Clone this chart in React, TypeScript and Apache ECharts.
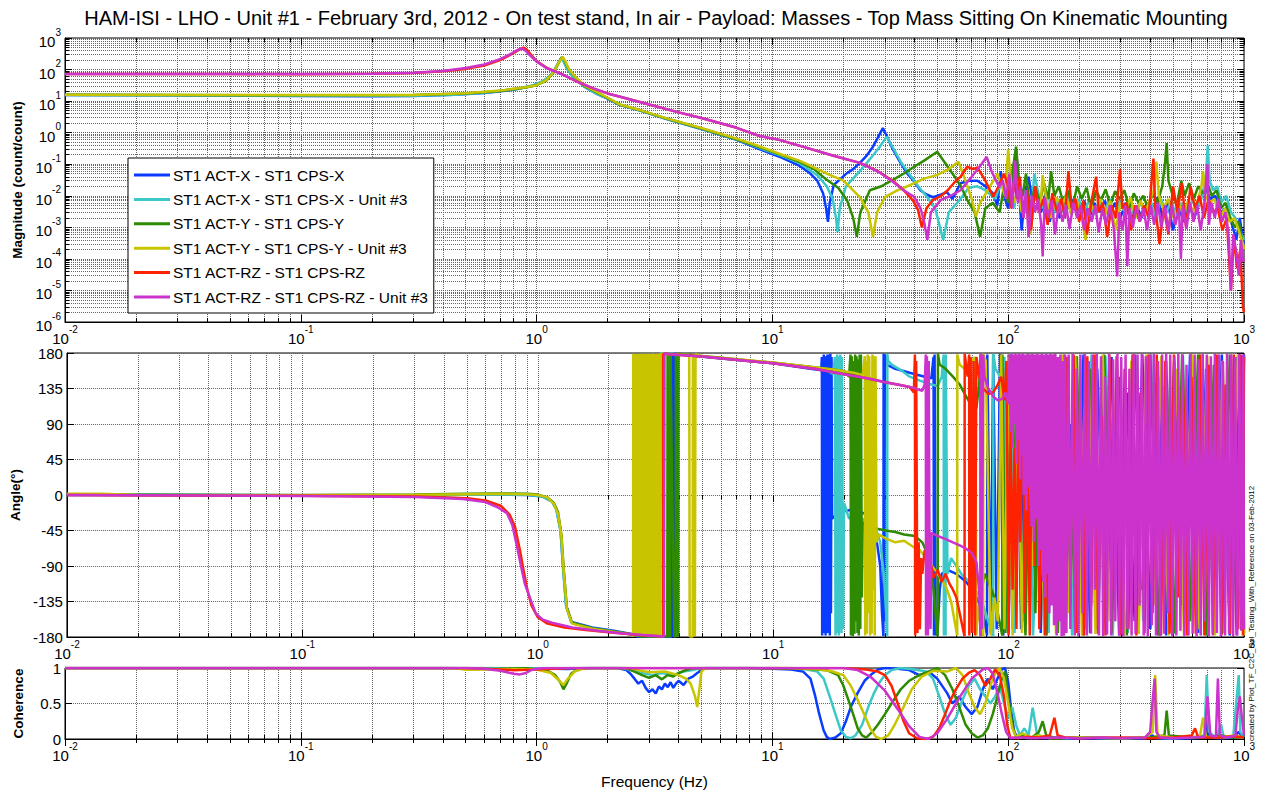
import React, { useEffect, useRef } from "react";
import * as echarts from "echarts";

const FONT = '"Liberation Sans", Arial, Helvetica, sans-serif';
const TITLE =
  "HAM-ISI - LHO - Unit #1 - February 3rd, 2012 - On test stand, In air - Payload: Masses - Top Mass Sitting On Kinematic Mounting";
const SIDE_NOTE = "created by Plot_TF_C2C_Rol_Testing_With_Reference on 03-Feb-2012";
const Y_NAMES = ["Magnitude (count/count)", "Angle(°)", "Coherence"];
const X_NAME = "Frequency (Hz)";
const SERIES_NAMES = [
  "ST1 ACT-X - ST1 CPS-X",
  "ST1 ACT-X - ST1 CPS-X - Unit #3",
  "ST1 ACT-Y - ST1 CPS-Y",
  "ST1 ACT-Y - ST1 CPS-Y - Unit #3",
  "ST1 ACT-RZ - ST1 CPS-RZ",
  "ST1 ACT-RZ - ST1 CPS-RZ - Unit #3",
];
const COLORS = ["#0a3cff", "#3cc8c8", "#2e8a00", "#c8c400", "#ff2200", "#cc33cc"];
const FREQ_MIN = 0.01;
const FREQ_MAX = 1000;
const MAG_MIN = 1e-6;
const MAG_MAX = 1e3;
const PHASE_MIN = -180;
const PHASE_MAX = 180;
const PHASE_STEP = 45;
const COH_MIN = 0;
const COH_MAX = 1;
const COH_STEP = 0.5;

// ---------- Magnitude (count/count) ----------
const MAG_X = [[0.01,15.5],[0.03,15.3],[0.1,14.6],[0.2,14.3],[0.3,14.5],[0.45,15.8],[0.6,18],[0.8,23],[0.95,30],[1.05,40],[1.12,55],[1.18,85],[1.23,150],[1.27,230],[1.3,190],[1.35,105],[1.42,62],[1.6,28],[1.8,17],[2.0,12],[2.26,7.5],[2.75,5],[3.5,2.8],[5,1.3],[7,0.6],[8.8,0.3],[11,0.16],[13,0.09],[14.3,0.055],[15.5,0.03],[16.4,0.012],[16.9,0.004],[17.2,0.0015],[17.5,0.006],[18.2,0.022],[19.5,0.035],[20.7,0.052],[22,0.07],[23.5,0.11],[25,0.18],[26.7,0.36],[28,0.7],[29.4,1.4],[30.5,0.8],[32.4,0.3],[34.5,0.13],[37.2,0.052],[40,0.028],[42.4,0.015],[45,0.011],[48,0.009],[52,0.011],[55,0.013],[58,0.008],[62.8,0.025],[68,0.03],[74,0.03],[80,0.02],[86,0.012],[90,0.005],[93,0.06],[96,0.01],[100,0.004],[104,0.04],[108,0.3],[111,0.02],[114,0.0008],[118,0.012],[122,0.04],[127,0.006],[132,0.015],[138,0.003],[144,0.012],[150,0.0015],[157,0.008],[165,0.002],[173,0.007],[181,0.004],[190,0.008],[200,0.003],[210,0.007],[221,0.002],[232,0.006],[244,0.003],[257,0.007],[270,0.0025],[284,0.006],[299,0.002],[315,0.006],[332,0.0015],[350,0.005],[368,0.002],[388,0.006],[408,0.003],[430,0.009],[452,0.002],[476,0.006],[500,0.0008],[527,0.005],[555,0.0015],[585,0.005],[615,0.002],[648,0.006],[682,0.02],[718,0.008],[756,0.01],[796,0.003],[838,0.004],[882,0.0015],[928,0.0004],[960,0.002],[985,0.0005],[1000,0.0003]];
const MAG_XU3 = [[0.01,15.6],[0.03,15.4],[0.1,14.9],[0.3,14.8],[0.45,16],[0.6,18.3],[0.8,23.5],[0.95,30.5],[1.05,41],[1.12,56],[1.18,86],[1.23,152],[1.27,225],[1.3,185],[1.35,102],[1.42,60],[1.6,28],[1.8,17],[2.0,12.2],[2.26,7.6],[2.75,5.1],[3.5,2.85],[5,1.32],[7,0.62],[8.8,0.33],[11,0.18],[13,0.11],[15.5,0.045],[17,0.02],[18,0.008],[18.6,0.002],[18.9,0.0007],[19.3,0.004],[20.5,0.02],[23.5,0.06],[26,0.15],[28.5,0.35],[30.5,0.75],[32,0.4],[35,0.12],[38,0.05],[42,0.018],[45.4,0.009],[49,0.004],[53,0.0004],[56,0.003],[62.8,0.008],[68,0.018],[74,0.02],[80,0.015],[88,0.008],[94,0.03],[98,0.008],[102,0.02],[106,0.004],[110,0.03],[114,0.006],[119,0.015],[124,0.0008],[129,0.05],[135,0.01],[141,0.004],[148,0.01],[155,0.0025],[163,0.008],[171,0.003],[180,0.009],[189,0.004],[199,0.008],[209,0.003],[220,0.007],[231,0.0025],[243,0.007],[256,0.003],[269,0.008],[283,0.002],[297,0.007],[312,0.003],[328,0.007],[345,0.002],[363,0.006],[382,0.003],[402,0.007],[423,0.002],[445,0.008],[468,0.003],[492,0.007],[518,0.002],[545,0.006],[573,0.003],[603,0.007],[634,0.004],[667,0.01],[690,0.05],[702,0.4],[715,0.03],[740,0.015],[770,0.02],[800,0.006],[840,0.01],[880,0.003],[920,0.002],[960,0.0008],[1000,0.0004]];
const MAG_Y = [[0.01,15.8],[0.1,15.3],[0.3,15.5],[0.5,17.5],[0.7,21],[0.9,27],[1.0,32],[1.1,45],[1.18,80],[1.24,160],[1.28,250],[1.31,200],[1.36,110],[1.45,60],[1.6,30],[1.8,19],[2.0,12.5],[2.26,7.6],[2.75,5.1],[3.5,2.9],[5,1.35],[7,0.63],[8.8,0.35],[11,0.19],[13,0.12],[15,0.07],[17,0.032],[19,0.018],[20.7,0.0074],[22,0.002],[22.8,0.0005],[23.6,0.003],[25.9,0.015],[29,0.02],[32.4,0.032],[36,0.05],[39.9,0.083],[44,0.13],[50,0.25],[54,0.11],[58.7,0.045],[63,0.02],[67,0.0074],[72,0.003],[76,0.0005],[80,0.004],[86,0.006],[92,0.003],[96,0.02],[100,0.006],[104,0.05],[108,0.36],[111,0.03],[115,0.01],[119,0.05],[124,0.004],[130,0.02],[136,0.006],[142,0.025],[148,0.008],[152,0.06],[157,0.01],[164,0.02],[171,0.006],[179,0.015],[187,0.004],[196,0.02],[205,0.008],[215,0.018],[225,0.004],[236,0.015],[247,0.007],[259,0.016],[271,0.005],[284,0.014],[297,0.008],[311,0.015],[326,0.004],[341,0.012],[357,0.006],[374,0.01],[392,0.004],[410,0.012],[430,0.006],[450,0.02],[462,0.1],[470,0.47],[478,0.03],[495,0.012],[518,0.005],[542,0.03],[560,0.01],[585,0.025],[612,0.008],[640,0.02],[670,0.012],[700,0.025],[730,0.01],[765,0.015],[800,0.004],[835,0.006],[875,0.002],[915,0.001],[950,0.0015],[980,0.0004],[1000,0.0002]];
const MAG_YU3 = [[0.01,15.8],[0.1,15.5],[0.3,15.6],[0.5,17.8],[0.7,21.5],[0.9,27.5],[1.0,32],[1.1,46],[1.18,82],[1.24,165],[1.29,255],[1.32,190],[1.37,105],[1.46,58],[1.6,31],[1.8,19.5],[2.0,12.8],[2.26,7.8],[2.75,5.2],[3.5,2.95],[5,1.4],[7,0.66],[8.8,0.37],[11,0.2],[13,0.13],[15,0.08],[17,0.05],[20,0.03],[23.5,0.009],[25.5,0.003],[26.7,0.0005],[27.8,0.003],[30,0.009],[34,0.015],[38.5,0.022],[44,0.035],[50,0.046],[56,0.07],[61.5,0.12],[65,0.04],[70,0.008],[73,0.0022],[76,0.006],[82,0.015],[90,0.05],[94,0.02],[97,0.01],[100,0.3],[103,0.02],[106,0.006],[110,0.015],[114,0.003],[119,0.006],[124,0.0006],[130,0.012],[137,0.004],[140,0.045],[145,0.008],[152,0.002],[160,0.009],[168,0.004],[176,0.01],[185,0.0025],[194,0.008],[203,0.003],[213,0.0004],[223,0.006],[234,0.003],[246,0.008],[258,0.0025],[271,0.007],[285,0.0008],[299,0.006],[314,0.003],[330,0.009],[347,0.002],[364,0.007],[382,0.003],[400,0.008],[415,0.015],[425,0.12],[435,0.01],[455,0.004],[478,0.008],[502,0.002],[527,0.006],[553,0.0025],[580,0.007],[610,0.003],[640,0.008],[660,0.02],[670,0.06],[685,0.01],[715,0.006],[750,0.008],[790,0.002],[830,0.004],[870,0.0015],[910,0.002],[950,0.0008],[990,0.0003],[1000,0.0002]];
const MAG_RZ = [[0.01,72],[0.05,72],[0.1,71],[0.2,73],[0.3,78],[0.4,88],[0.5,105],[0.6,135],[0.7,200],[0.78,300],[0.84,420],[0.88,500],[0.91,420],[0.95,290],[1.0,185],[1.1,115],[1.28,72],[1.5,40],[1.75,25],[2.0,17.5],[2.26,13.8],[3,7.8],[4,4.4],[5,2.9],[7,1.45],[8.85,0.78],[10.7,0.59],[14,0.33],[18,0.19],[23.5,0.11],[28,0.06],[32.4,0.03],[36,0.015],[39.5,0.007],[41.5,0.0035],[43,0.001],[45,0.004],[48,0.0074],[52,0.01],[55.4,0.015],[60,0.03],[62.8,0.04],[67,0.083],[71,0.07],[74,0.08],[80,0.03],[86.4,0.0093],[91,0.02],[96,0.05],[100,0.02],[103,0.004],[106,0.03],[109,0.008],[112,0.04],[116,0.002],[120,0.015],[125,0.0008],[130,0.02],[135,0.003],[141,0.008],[147,0.0012],[154,0.012],[161,0.003],[168,0.008],[174,0.002],[180,0.06],[186,0.004],[193,0.008],[200,0.0015],[208,0.007],[216,0.0006],[225,0.006],[236,0.04],[242,0.003],[252,0.006],[263,0.0005],[274,0.005],[286,0.002],[298,0.07],[305,0.004],[318,0.006],[332,0.0008],[346,0.005],[361,0.0015],[377,0.005],[394,0.002],[413,0.15],[420,0.005],[438,0.0003],[457,0.004],[478,0.0006],[500,0.02],[522,0.003],[545,0.025],[568,0.001],[593,0.02],[620,0.004],[648,0.01],[677,0.002],[707,0.008],[740,0.003],[775,0.004],[810,0.0008],[845,0.002],[880,0.00001],[905,0.0005],[935,0.00005],[965,0.0002],[990,0.000003],[1000,0.000002]];
const MAG_RZU3 = [[0.01,72],[0.05,72],[0.1,72],[0.2,73],[0.3,79],[0.4,90],[0.5,112],[0.6,145],[0.7,215],[0.77,300],[0.82,400],[0.86,470],[0.89,420],[0.93,300],[1.0,180],[1.1,112],[1.28,71],[1.5,40],[1.75,25],[2.0,17.5],[2.26,13.8],[3,7.8],[4,4.4],[5,2.9],[7,1.45],[8.85,0.78],[10.7,0.59],[14,0.33],[18,0.19],[23.5,0.11],[28.8,0.052],[32.4,0.028],[36,0.015],[39.9,0.0093],[42.5,0.004],[44,0.0015],[45.4,0.0004],[47,0.003],[51.8,0.0074],[57,0.01],[62.8,0.015],[70,0.04],[77,0.1],[81,0.17],[85,0.06],[91.5,0.019],[95,0.03],[98,0.008],[101,0.05],[104,0.004],[107,0.13],[110,0.006],[113,0.02],[116,0.002],[119,0.015],[122,0.0005],[126,0.01],[130,0.003],[134,0.008],[138,0.0012],[140,0.00012],[143,0.009],[148,0.002],[153,0.007],[158,0.0006],[164,0.006],[170,0.0015],[176,0.005],[182,0.0009],[189,0.006],[196,0.002],[203,0.005],[210,0.0008],[218,0.004],[226,0.0015],[234,0.005],[242,0.0007],[251,0.004],[260,0.0012],[270,0.005],[280,0.001],[290,0.000028],[296,0.003],[305,0.0008],[314,0.005],[320,0.00006],[327,0.004],[338,0.001],[350,0.005],[362,0.0015],[375,0.004],[388,0.0008],[402,0.005],[416,0.0012],[431,0.006],[446,0.001],[462,0.005],[478,0.0007],[495,0.005],[512,0.0012],[530,0.004],[540,0.0001],[550,0.005],[570,0.0009],[590,0.006],[611,0.0015],[633,0.005],[655,0.0008],[678,0.005],[700,0.1],[710,0.0012],[727,0.006],[752,0.002],[778,0.008],[806,0.0015],[834,0.003],[863,0.0004],[880,0.00001],[900,0.0006],[930,0.00015],[950,0.00003],[970,0.0004],[990,0.00008],[1000,0.0001]];

// ---------- Phase (degrees) ----------
const PH_X = [[0.01,0],[0.1,-0.5],[0.3,-0.8],[0.6,0.8],[0.9,0],[1.05,-2],[1.15,-8],[1.2,-18],[1.25,-45],[1.28,-90],[1.32,-140],[1.39,-161],[1.7,-168],[2.1,-172],[2.6,-177],[2.62,-179.5],[2.625,179.5],[2.63,-179.5],[3.72,-179.8],[3.73,179.5],[3.78,-179.5],[3.8,179],[4.0,178],[6,173],[10,167],[13,162],[16,158],[16.1,175],[16.15,-178],[16.2,170],[16.3,-175],[16.4,178],[16.5,-120],[16.6,176],[16.7,-178],[16.8,165],[16.9,-170],[17.0,178],[17.1,-175],[17.2,-60],[17.3,178],[17.4,-178],[17.5,179],[17.6,-150],[17.7,175],[17.8,-30],[19,-22],[22,-18],[25,-25],[27,-40],[28.5,-90],[29,-150],[29.4,-179],[29.45,179],[29.6,-160],[29.8,178],[30.5,165],[33,160],[38,155],[44,150],[47,148],[48,175],[48.2,-178],[48.5,178],[49,-178],[50,-170],[51,-120],[52,-100],[55,-95],[60,-100],[66,-110],[72,-125],[78,-150],[81,-178],[81.2,178],[84,-175],[86,178],[89,-170],[92,179],[95,-178],[96,170],[100,-175],[103,120],[106,-150],[110,60],[113,-170],[118,170],[124,-120],[130,150],[137,-175],[145,100],[153,-60],[162,175],[172,-170],[183,90],[195,-130],[208,178],[222,-175],[238,160],[255,-100],[274,175],[295,-178],[318,130],[343,-160],[370,178],[400,-170],[432,150],[467,-178],[505,170],[546,-140],[590,178],[638,-175],[690,160],[745,-170],[805,178],[870,-178],[930,175],[970,-170],[1000,178]];
const PH_XU3 = [[0.01,0.5],[0.1,-0.3],[0.3,-0.6],[0.6,1],[0.9,0.2],[1.05,-2],[1.15,-8],[1.2,-19],[1.25,-46],[1.28,-92],[1.32,-141],[1.39,-162],[1.7,-169],[2.1,-173],[2.6,-177.5],[2.9,-178.5],[3.05,-179.5],[3.06,179.5],[3.1,-179.5],[3.3,-179.5],[3.32,179.5],[3.6,178.5],[3.62,-179.5],[3.65,179],[4,178],[6,173.5],[10,167.5],[14,162],[17,158],[18,153],[18.3,175],[18.4,-178],[18.5,170],[18.6,-175],[18.7,178],[18.8,-100],[18.9,176],[19.0,-178],[19.1,150],[19.2,-170],[19.3,178],[19.5,-175],[19.6,175],[19.8,-170],[20,-10],[20.5,-20],[21,-30],[22,-25],[23,-35],[24,-30],[25,-40],[26,-33],[27.5,-45],[28.5,-60],[29.5,-100],[30.2,-150],[30.5,-179],[30.55,179],[30.8,170],[32,165],[35,158],[38,150],[42,145],[47,140],[50,138],[52,150],[53,178],[53.1,-178],[53.5,-120],[54,-178],[54.1,178],[55,-100],[57,-80],[60,-90],[63,-100],[68,-110],[72,-120],[76,-130],[80,-150],[84,-170],[86,-179],[86.1,179],[88,160],[92,150],[96,175],[98,-170],[102,179],[106,-175],[110,140],[115,-160],[121,178],[127,-178],[133,-30],[140,170],[148,-175],[156,178],[165,-120],[175,175],[186,-178],[198,130],[211,-170],[225,178],[241,-150],[258,176],[277,-178],[298,140],[321,-175],[346,178],[373,-160],[403,178],[435,-178],[470,150],[508,-176],[550,178],[596,-140],[645,178],[698,-178],[756,170],[819,-175],[880,178],[940,-170],[1000,175]];
const PH_Y = [[0.01,0.5],[0.1,0],[0.3,0.5],[0.5,1.5],[0.7,2],[0.9,1.5],[1.0,0.5],[1.1,-3],[1.17,-10],[1.22,-22],[1.26,-50],[1.29,-95],[1.33,-143],[1.4,-162],[1.7,-169],[2.1,-173],[2.6,-177],[2.7,-179],[2.71,179],[2.72,-179.5],[3.55,-179.5],[3.56,179.5],[3.6,-179.5],[3.65,-179.5],[3.66,179.5],[3.8,-179.5],[3.85,-179.5],[3.86,179.5],[3.95,-179.5],[3.96,179],[4.2,178],[6,174],[10,167.5],[14,163],[18,159],[20,157],[21,150],[21.3,178],[21.4,-178],[21.6,176],[21.8,-179],[22,170],[22.15,-176],[22.3,178],[22.45,-160],[22.6,176],[22.8,-175],[22.95,172],[23.1,-178],[23.3,178],[23.45,-170],[23.6,178],[23.8,-130],[24,-35],[25,-38],[27,-42],[30,-45],[33,-47],[36,-50],[40,-52],[43,-60],[46,-80],[48,-120],[49.5,-170],[50,-179],[50.1,179],[51,165],[54,160],[58,150],[62,140],[66,125],[70,112],[73,110],[75,140],[76,178],[76.1,-178],[77,-120],[79,-100],[82,-110],[86,-125],[90,-150],[94,-178],[94.1,178],[97,-175],[100,178],[104,-170],[108,175],[113,-60],[118,-178],[124,178],[130,-150],[137,170],[145,-178],[153,120],[162,-175],[172,178],[183,-140],[195,176],[208,-178],[222,160],[238,-170],[255,178],[274,-175],[295,150],[318,-178],[343,178],[370,-120],[400,178],[432,-178],[467,170],[505,-175],[546,178],[590,-160],[638,178],[690,-178],[745,165],[805,-176],[870,178],[930,-178],[970,176],[1000,-175]];
const PH_YU3 = [[0.01,1.5],[0.014,1.5],[0.02,0],[0.1,-0.3],[0.3,0.3],[0.5,1],[0.7,1.5],[0.9,1],[1.0,0],[1.1,-3],[1.17,-11],[1.22,-24],[1.26,-52],[1.29,-98],[1.33,-145],[1.4,-163],[1.7,-169.5],[2.1,-173.5],[2.5,-177],[2.54,-179],[2.545,179],[2.56,-179],[2.575,179],[2.59,-179],[2.605,179],[2.62,-179],[2.635,179],[2.65,-179],[2.665,179],[2.68,-179],[2.695,179],[2.71,-179],[2.725,179],[2.74,-179],[2.755,179],[2.77,-179],[2.785,179],[2.8,-179],[2.815,179],[2.83,-179],[2.845,179],[2.86,-179],[2.875,179],[2.89,-179],[2.905,179],[2.92,-179],[2.935,179],[2.95,-179],[2.965,179],[2.98,-179],[2.995,179],[3.01,-179],[3.025,179],[3.04,-179],[3.06,179],[3.08,-179],[3.1,179],[3.12,-179],[3.14,179],[3.16,-179],[3.18,179],[3.2,-179],[3.22,179],[3.25,-179],[3.28,179],[3.3,-179],[3.33,179],[3.5,178.5],[4.4,177.5],[4.42,-179],[4.5,-179.5],[4.55,-179.5],[4.56,179],[4.65,-179],[4.68,178.5],[5,176],[7,172],[10,168],[14,163],[18,159],[22,155],[24,152],[24.5,176],[24.6,-178],[24.8,170],[25,-176],[25.2,178],[25.4,-150],[25.6,176],[25.8,-178],[26,150],[26.2,-176],[26.4,178],[26.6,-120],[26.8,176],[27,-178],[27.2,176],[27.5,-60],[28,-50],[30,-55],[33,-60],[36,-58],[39,-65],[42,-70],[46,-85],[50,-100],[54,-115],[57,-135],[59,-160],[60.5,-178],[60.6,178],[62,165],[65,160],[68,165],[72,175],[73,-178],[74,-140],[76,-165],[78,-179],[78.1,179],[80,170],[84,-178],[87,-130],[90,-160],[93,178],[96,-170],[100,175],[104,-178],[109,150],[114,-175],[120,178],[127,-90],[134,176],[142,-178],[150,160],[159,-176],[169,178],[180,-150],[192,176],[205,-178],[219,140],[234,-176],[251,178],[269,-160],[288,176],[309,-178],[332,170],[357,-176],[384,178],[413,-140],[445,176],[479,-178],[516,160],[556,-176],[600,178],[647,-170],[698,176],[753,-178],[812,170],[876,-176],[940,178],[1000,-178]];
const PH_RZ = [[0.01,0],[0.1,-1],[0.3,-2],[0.5,-4],[0.6,-7],[0.7,-14],[0.76,-25],[0.8,-40],[0.84,-70],[0.87,-95],[0.9,-118],[0.94,-140],[1.0,-155],[1.1,-163],[1.3,-168],[1.6,-171],[2.0,-174],[2.6,-177],[3.3,-179],[3.4,-179.5],[3.41,179.5],[3.42,-179.5],[3.44,179.5],[3.6,178.5],[5,175.5],[10,167],[15,160],[20,153],[25,148],[30,143],[35,139],[38,137],[39.6,130],[40,178],[40.1,-178],[40.5,170],[41,-175],[41.5,-60],[42,-170],[42.5,-80],[43,-100],[44,-70],[45,-85],[46,-100],[47,-90],[48,-105],[50,-95],[52,-110],[54,-100],[56,-112],[58,-120],[60,-130],[62,-150],[64,-170],[65,-179],[65.1,179],[66,165],[67,150],[68,178],[68.1,-178],[69,175],[70,-175],[71,170],[72,-178],[73,175],[75,150],[78,135],[82,128],[86,130],[90,140],[93,150],[96,120],[98,170],[100,-178],[102,90],[104,-120],[106,60],[108,-170],[110,120],[112,-60],[115,178],[117,-150],[120,100],[123,-178],[126,150],[129,-90],[132,178],[135,-170],[139,60],[143,-178],[147,170],[151,-120],[156,178],[161,-160],[166,120],[171,-178],[177,175],[183,-80],[189,178],[195,-175],[202,140],[209,-178],[216,176],[224,-140],[232,178],[240,-176],[249,100],[258,-178],[268,178],[278,-120],[288,176],[299,-178],[311,160],[323,-170],[336,178],[349,-178],[363,130],[378,-175],[393,178],[409,-150],[426,178],[444,-178],[463,170],[483,-176],[504,178],[526,-130],[549,176],[573,-178],[598,150],[624,-176],[651,178],[679,-178],[708,165],[738,-175],[769,178],[801,-178],[835,140],[870,-176],[905,178],[940,-170],[970,178],[990,-178],[1000,175]];
const PH_RZU3 = [[0.01,0],[0.1,-1.2],[0.3,-2.5],[0.48,-5],[0.6,-9],[0.68,-16],[0.74,-23],[0.78,-38],[0.82,-68],[0.85,-91],[0.88,-112],[0.91,-124],[0.98,-150],[1.05,-158],[1.15,-162],[1.4,-168],[1.8,-172],[2.3,-175.5],[2.8,-177.5],[3.3,-179],[3.44,-179.5],[3.45,179.5],[3.6,178.5],[5,175.5],[10,167],[15,160],[20,153],[25,148],[30,143],[35,139],[39.5,136],[41,134],[43,132],[44,140],[44.5,178],[44.6,-178],[45,176],[45.4,-178],[45.8,170],[46.2,-100],[46.6,-170],[47,-48],[50,-52],[54,-56],[58,-60],[62,-64],[66,-68],[70,-74],[73,-85],[75,-120],[76,-179],[76.1,179],[77,-170],[78,178],[79,150],[82,135],[86,125],[90,120],[94,122],[97,130],[100,115],[101,178],[102,80],[103,179],[104,60],[105,178],[106,90],[107,179],[108,40],[109,178],[110,70],[111,179],[112,20],[113,178],[114,50],[115,179],[116,0],[117.5,178],[119,-20],[120.5,179],[122,10],[123.5,178],[125,-40],[126.5,179],[128,-60],[129.5,178],[131,-30],[132.5,179],[134,-90],[135.5,178],[137,-70],[138.5,179],[140,-110],[141.5,178],[143,-130],[144.5,179],[146,-100],[147.5,178],[149,-150],[150.5,179],[152,-140],[154,178],[156,-165],[158,179],[160,-178],[162,175],[164,-160],[166,178],[168,-179],[170,170],[172,-178],[174,178],[176,-175],[180,178],[183,-170],[187,179],[191,-178],[195,160],[198,-179],[202,178],[206,-150],[211,179],[215,-178],[219,170],[224,-176],[228,178],[233,-120],[237,179],[242,-178],[247,176],[252,-179],[257,150],[262,-177],[267,179],[273,-178],[278,172],[284,-160],[290,179],[295,-178],[301,175],[307,-179],[314,178],[320,-170],[326,160],[333,-178],[340,179],[346,-176],[353,178],[360,-140],[368,179],[375,-178],[383,176],[390,-179],[398,178],[406,-165],[414,179],[423,-178],[431,170],[440,-179],[449,178],[458,-176],[467,179],[476,-150],[486,178],[496,-179],[506,176],[516,-178],[526,179],[537,-172],[547,178],[558,-179],[570,165],[581,-178],[593,179],[605,-176],[617,178],[629,-179],[642,172],[655,-178],[668,179],[681,-160],[695,178],[709,-179],[723,176],[737,-178],[752,179],[767,-175],[783,178],[798,-179],[814,170],[831,-178],[847,179],[864,-176],[882,178],[899,-179],[917,175],[936,-178],[955,179],[974,-172],[993,178],[1000,-170]];

// ---------- Coherence ----------
const COH_X = [[0.01,1],[0.5,1],[0.8,0.995],[1.2,0.99],[1.35,0.985],[1.6,1],[2.2,1],[2.4,0.97],[2.5,0.92],[2.6,0.85],[2.7,0.78],[2.8,0.82],[2.9,0.72],[3.0,0.66],[3.1,0.7],[3.2,0.64],[3.3,0.74],[3.4,0.7],[3.5,0.78],[3.6,0.73],[3.7,0.8],[3.8,0.72],[3.9,0.78],[4.0,0.82],[4.2,0.76],[4.4,0.85],[4.6,0.88],[4.8,0.93],[5,0.97],[5.2,1],[8,1],[10,0.99],[12,0.98],[13.5,0.95],[14.5,0.85],[15.2,0.6],[15.8,0.35],[16.5,0.12],[17,0.03],[17.5,0],[18.5,0.02],[19.5,0.08],[20.5,0.25],[21.5,0.45],[23,0.65],[24.6,0.82],[26.5,0.92],[28,0.98],[30,1],[34,0.99],[38,0.97],[42,0.9],[46,0.95],[50,0.85],[55,0.65],[58,0.5],[62,0.6],[66,0.45],[70,0.35],[74,0.45],[78,0.7],[82,0.85],[86,0.7],[90,0.85],[94,0.98],[97,1],[100,0.8],[103,0.4],[106,0.1],[110,0.02],[115,0.05],[120,0.01],[130,0.03],[145,0.01],[160,0.02],[180,0.005],[200,0.01],[250,0.005],[300,0.01],[380,0.005],[410,0.05],[420,0.01],[500,0.005],[600,0.01],[690,0.02],[700,0.3],[710,0.02],[800,0.01],[900,0.02],[950,0.1],[980,0.03],[1000,0.05]];
const COH_XU3 = [[0.01,1],[2.3,1],[2.5,0.97],[2.8,0.93],[3.1,0.9],[3.4,0.93],[3.8,0.9],[4.2,0.95],[4.6,0.97],[5,1],[12,1],[14,0.98],[15.5,0.95],[16.5,0.85],[17.5,0.6],[18.5,0.35],[19.5,0.12],[20.5,0.03],[21.5,0.01],[22.5,0.05],[24,0.2],[25.5,0.45],[27,0.65],[28.5,0.8],[30,0.9],[32,0.97],[35,1],[40,0.98],[45,0.95],[48,0.85],[51,0.6],[54,0.35],[57,0.2],[60,0.3],[64,0.55],[68,0.75],[72,0.85],[76,0.7],[80,0.6],[84,0.5],[88,0.6],[92,0.75],[96,0.5],[100,0.3],[104,0.45],[108,0.2],[112,0.05],[117,0.15],[122,0.05],[127,0.44],[132,0.1],[138,0.02],[150,0.03],[175,0.01],[200,0.02],[300,0.01],[400,0.02],[480,0.01],[600,0.02],[680,0.05],[695,0.9],[710,0.1],[760,0.02],[800,0.2],[820,0.02],[900,0.03],[950,0.9],[965,0.1],[1000,0.03]];
const COH_Y = [[0.01,1],[0.45,1],[0.5,0.985],[0.7,0.99],[0.9,0.995],[1.1,0.97],[1.2,0.9],[1.26,0.8],[1.3,0.7],[1.34,0.78],[1.4,0.92],[1.5,0.99],[1.7,1],[2.4,1],[2.6,0.95],[2.8,0.9],[3.0,0.86],[3.2,0.9],[3.4,0.84],[3.6,0.9],[3.8,0.88],[4.0,0.93],[4.3,0.97],[4.6,1],[10,1],[14,0.99],[17,0.97],[19,0.9],[20,0.75],[21,0.55],[22,0.35],[23,0.15],[24,0.05],[25,0.02],[26.5,0.1],[28,0.2],[30,0.35],[32,0.5],[35,0.7],[38,0.82],[42,0.9],[46,0.95],[50,1],[54,0.9],[58,0.7],[62,0.45],[66,0.2],[70,0.08],[74,0.02],[78,0.05],[82,0.15],[86,0.35],[90,0.6],[94,0.85],[97,0.95],[100,0.6],[104,0.2],[108,0.02],[115,0.05],[125,0.01],[135,0.1],[140,0.25],[145,0.05],[160,0.01],[200,0.02],[300,0.01],[400,0.02],[460,0.05],[470,0.4],[480,0.05],[600,0.02],[700,0.03],[800,0.05],[900,0.02],[1000,0.03]];
const COH_YU3 = [[0.01,1],[0.45,1],[0.5,0.975],[0.6,0.98],[0.8,0.985],[1.0,0.98],[1.15,0.93],[1.25,0.82],[1.3,0.76],[1.35,0.84],[1.45,0.95],[1.6,1],[2.5,1],[2.7,0.97],[3.0,0.94],[3.5,0.95],[4.0,0.9],[4.3,0.85],[4.5,0.78],[4.7,0.6],[4.8,0.45],[4.9,0.7],[5.0,0.95],[5.2,1],[12,1],[16,0.98],[18,0.95],[20,0.9],[21.5,0.75],[23,0.55],[24.5,0.35],[26,0.15],[27.5,0.03],[29,0],[31,0.05],[33,0.2],[36,0.45],[39,0.7],[43,0.88],[48,0.96],[55,0.95],[60,1],[64,0.9],[68,0.65],[72,0.45],[76,0.35],[80,0.5],[84,0.75],[88,0.92],[92,1],[96,0.85],[100,0.5],[104,0.15],[108,0.03],[115,0.08],[125,0.02],[135,0.05],[150,0.01],[200,0.02],[300,0.01],[380,0.02],[410,0.1],[420,0.9],[430,0.05],[500,0.02],[650,0.03],[670,0.3],[690,0.03],[800,0.02],[900,0.05],[1000,0.02]];
const COH_RZ = [[0.01,1],[0.5,1],[0.6,0.99],[0.7,0.98],[0.8,0.97],[0.9,0.975],[1.0,0.98],[1.1,0.985],[1.2,0.99],[1.4,1],[20,1],[25,0.98],[28,0.95],[30,0.9],[32,0.75],[34,0.5],[36,0.25],[38,0.08],[41,0.01],[45,0],[48,0.03],[51,0.15],[54,0.35],[57,0.55],[60,0.7],[64,0.85],[68,0.93],[72,0.97],[76,0.9],[80,0.75],[84,0.85],[88,0.98],[92,0.9],[96,0.6],[99,0.2],[102,0.02],[110,0.01],[120,0.03],[135,0.02],[150,0.05],[157,0.3],[162,0.05],[175,0.02],[200,0.01],[300,0.02],[400,0.01],[500,0.02],[600,0.05],[620,0.15],[640,0.02],[800,0.02],[900,0.04],[1000,0.02]];
const COH_RZU3 = [[0.01,1],[0.5,1],[0.6,0.99],[0.7,0.96],[0.75,0.94],[0.8,0.92],[0.85,0.91],[0.9,0.93],[0.95,0.97],[1.0,0.99],[1.1,1],[20,1],[23,0.97],[26,0.88],[30,0.68],[34,0.42],[38,0.18],[42,0.03],[46,0],[50,0.08],[55,0.28],[62,0.58],[70,0.85],[78,0.98],[82,1],[86,0.92],[90,0.65],[94,0.35],[98,0.1],[102,0.01],[110,0.02],[130,0.01],[160,0.02],[200,0.01],[250,0.02],[300,0.01],[380,0.02],[400,0.1],[410,0.55],[418,0.85],[425,0.1],[440,0.02],[500,0.01],[600,0.02],[680,0.03],[700,0.6],[720,0.05],[760,0.03],[775,0.85],[790,0.05],[850,0.02],[920,0.05],[940,0.4],[960,0.6],[980,0.3],[1000,0.05]];

const MAG_SETS = [MAG_X, MAG_XU3, MAG_Y, MAG_YU3, MAG_RZ, MAG_RZU3];
const PHASE_SETS = [PH_X, PH_XU3, PH_Y, PH_YU3, PH_RZ, PH_RZU3];
const COH_SETS = [COH_X, COH_XU3, COH_Y, COH_YU3, COH_RZ, COH_RZU3];

const DOT = { show: true, lineStyle: { color: "#666", type: "dotted", width: 1 } };
const TICK_FONT = 15;
const TXT = { fontFamily: FONT, fontSize: TICK_FONT, color: "#000" };

const powLabel = (v: number) => `{b|10}{s|${Math.round(Math.log10(v))}}`;
const powRich = {
  b: { fontFamily: FONT, fontSize: TICK_FONT, color: "#000", lineHeight: 22, verticalAlign: "bottom" },
  s: { fontFamily: FONT, fontSize: 10, color: "#000", lineHeight: 10, verticalAlign: "top" },
};

const TICK = { show: true, inside: true, length: 7, lineStyle: { color: "#000" } };
const MINOR_TICK = { show: true, splitNumber: 9, length: 4, lineStyle: { color: "#000" } };

function xAxisFor(gi: number, withName: boolean) {
  return {
    type: "log",
    logBase: 10,
    gridIndex: gi,
    min: FREQ_MIN,
    max: FREQ_MAX,
    splitNumber: 5,
    axisLine: { show: true, onZero: false, lineStyle: { color: "#000", width: 1 } },
    axisTick: TICK,
    minorTick: MINOR_TICK,
    splitLine: DOT,
    minorSplitLine: DOT,
    axisLabel: { formatter: powLabel, rich: powRich, margin: 2 },
    name: withName ? X_NAME : "",
    nameLocation: "middle",
    nameGap: 34,
    nameTextStyle: { fontFamily: FONT, fontSize: 15.5, color: "#000" },
  };
}

function xTopFor(gi: number) {
  return {
    type: "log",
    logBase: 10,
    gridIndex: gi,
    position: "top",
    min: FREQ_MIN,
    max: FREQ_MAX,
    splitNumber: 5,
    axisLine: { show: false },
    axisTick: TICK,
    minorTick: MINOR_TICK,
    splitLine: { show: false },
    minorSplitLine: { show: false },
    axisLabel: { show: false },
  };
}

function buildOption() {
  const grids = [
    { left: 65, right: 17, top: 38, height: 284 },
    { left: 65, right: 17, top: 353, height: 284 },
    { left: 65, right: 17, top: 668, height: 72 },
  ].map((g) => ({ ...g, show: true, borderColor: "#000", borderWidth: 1, backgroundColor: "#fff" }));

  const NAME_STYLE = { fontFamily: FONT, fontSize: 13.5, fontWeight: "bold", color: "#000" };
  const yCommon = {
    axisLine: { show: true, lineStyle: { color: "#000" } },
    axisTick: TICK,
    splitLine: DOT,
    nameLocation: "middle",
    nameGap: 40,
    nameTextStyle: NAME_STYLE,
  };
  const yAxes: any[] = [
    {
      ...yCommon,
      type: "log",
      logBase: 10,
      gridIndex: 0,
      min: MAG_MIN,
      max: MAG_MAX,
      splitNumber: 9,
      minorTick: MINOR_TICK,
      minorSplitLine: DOT,
      axisLabel: { formatter: powLabel, rich: powRich, margin: 4 },
      name: Y_NAMES[0],
      nameGap: 36,
    },
    {
      ...yCommon,
      type: "value",
      gridIndex: 1,
      min: PHASE_MIN,
      max: PHASE_MAX,
      interval: PHASE_STEP,
      axisLabel: { ...TXT, margin: 4 },
      name: Y_NAMES[1],
    },
    {
      ...yCommon,
      type: "value",
      gridIndex: 2,
      min: COH_MIN,
      max: COH_MAX,
      interval: COH_STEP,
      axisLabel: { ...TXT, margin: 4 },
      name: Y_NAMES[2],
    },
  ];
  // right-hand tick axes (box style)
  yAxes.push(
    { type: "log", logBase: 10, gridIndex: 0, position: "right", min: MAG_MIN, max: MAG_MAX, splitNumber: 9, axisLine: { show: false }, axisTick: TICK, minorTick: MINOR_TICK, splitLine: { show: false }, minorSplitLine: { show: false }, axisLabel: { show: false } },
    { type: "value", gridIndex: 1, position: "right", min: PHASE_MIN, max: PHASE_MAX, interval: PHASE_STEP, axisLine: { show: false }, axisTick: TICK, splitLine: { show: false }, axisLabel: { show: false } },
    { type: "value", gridIndex: 2, position: "right", min: COH_MIN, max: COH_MAX, interval: COH_STEP, axisLine: { show: false }, axisTick: TICK, splitLine: { show: false }, axisLabel: { show: false } }
  );

  const series: any[] = [];
  [MAG_SETS, PHASE_SETS, COH_SETS].forEach((sets, gi) => {
    sets.forEach((data, si) => {
      series.push({
        type: "line",
        name: SERIES_NAMES[si],
        xAxisIndex: gi,
        yAxisIndex: gi,
        data,
        showSymbol: false,
        symbol: "none",
        silent: true,
        clip: true,
        lineStyle: { color: COLORS[si], width: 2.5 },
        itemStyle: { color: COLORS[si] },
        z: 2,
      });
    });
  });

  return {
    animation: false,
    backgroundColor: "#fff",
    grid: grids,
    xAxis: [xAxisFor(0, false), xAxisFor(1, false), xAxisFor(2, true), xTopFor(0), xTopFor(1), xTopFor(2)],
    yAxis: yAxes,
    legend: {
      data: SERIES_NAMES,
      orient: "vertical",
      left: 128,
      top: 158,
      icon: "rect",
      itemWidth: 36,
      itemHeight: 3,
      itemGap: 8.4,
      padding: [9, 5, 8, 6],
      backgroundColor: "#fff",
      borderColor: "#000",
      borderWidth: 1,
      borderRadius: 0,
      selectedMode: false,
      textStyle: { fontFamily: FONT, fontSize: 15.5, color: "#000", padding: [0, 0, 0, -2] },
      z: 10,
    },
    graphic: [
      {
        type: "text",
        x: 656,
        y: 18,
        style: { text: TITLE, font: `20px ${FONT}`, fill: "#000", align: "center", verticalAlign: "middle", textAlign: "center", textVerticalAlign: "middle" },
      },
      {
        type: "text",
        x: 1251,
        y: 741,
        rotation: Math.PI / 2,
        style: { text: SIDE_NOTE, font: `8px ${FONT}`, fill: "#000", align: "left", verticalAlign: "middle", textAlign: "left", textVerticalAlign: "middle" },
        z: 20,
      },
    ],
    series,
  };
}

export default function App() {
  const ref = useRef<HTMLDivElement>(null);
  useEffect(() => {
    document.body.style.margin = "0";
    const chart = echarts.init(ref.current as HTMLDivElement, null, { renderer: "svg" });
    chart.setOption(buildOption() as any);
    return () => chart.dispose();
  }, []);
  return <div ref={ref} style={{ width: 1261, height: 790, background: "#fff" }} />;
}
